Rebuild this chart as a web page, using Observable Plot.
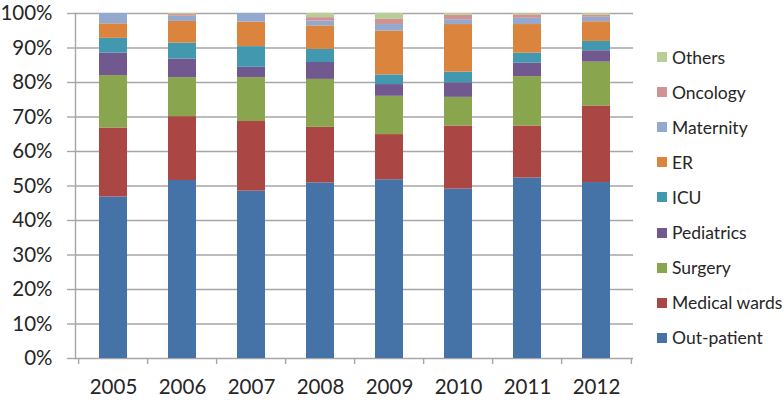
<!DOCTYPE html>
<html><head><meta charset="utf-8">
<script src="https://cdn.jsdelivr.net/npm/d3@7"></script>
<script src="https://cdn.jsdelivr.net/npm/@observablehq/plot@0.6"></script>
<style>
body{margin:0;background:#fff;font-family:Lato,sans-serif}
#wrap{position:relative;width:784px;height:404px;overflow:hidden}
#legend{position:absolute;left:657px;top:0;width:127px;height:404px}
.item{position:absolute;left:0;height:24px;display:flex;align-items:center;white-space:nowrap;font-size:17.5px;color:#262626}
.sw{width:10px;height:10px;margin-right:5px;flex:none}
</style></head><body><div id="wrap"><div id="legend"></div></div>
<script>
const years = ["2005","2006","2007","2008","2009","2010","2011","2012"];
const outPatient   = [46.8,51.6,48.5,50.9,51.8,49.1,52.3,51.0];
const medicalWards = [20.0,18.5,20.2,16.1,13.1,18.3,15.1,22.2];
const surgery      = [15.2,11.3,12.7,13.9,11.1, 8.3,14.3,12.7];
const pediatrics   = [ 6.5, 5.4, 3.0, 4.9, 3.4, 4.2, 3.9, 3.3];
const icu          = [ 4.3, 4.6, 6.0, 3.8, 2.8, 3.1, 2.9, 2.7];
const er           = [ 4.2, 6.3, 7.1, 6.8,12.7,13.8, 8.3, 5.7];
const maternity    = [ 3.0, 1.5, 2.5, 1.4, 1.9, 1.4, 1.8, 1.3];
const oncology     = [ 0.0, 0.5, 0.0, 1.0, 1.5, 1.3, 1.0, 0.6];
const others       = [ 0.0, 0.3, 0.0, 1.2, 1.7, 0.5, 0.4, 0.5];
const seriesNames  = ["Out-patient","Medical wards","Surgery","Pediatrics","ICU","ER","Maternity","Oncology","Others"];
const seriesColors = ["#4572A7","#AA4643","#89A54E","#71588F","#4198AF","#DB843D","#93A9CF","#D19392","#B9CD96"];
const yTicks = [0,10,20,30,40,50,60,70,80,90,100];

const seriesValues = [outPatient, medicalWards, surgery, pediatrics, icu, er, maternity, oncology, others];
const rows = seriesValues.flatMap((vals, s) => vals.map((v, i) => ({year: years[i], series: seriesNames[s], value: v})));

const W = 784, H = 404, ML = 75, MR = 151, MT = 13, MB = 46;
const step = (W - ML - MR) / years.length;
const grey = "#a6a6a6";

const chart = Plot.plot({
  width: W, height: H, marginLeft: ML, marginRight: MR, marginTop: MT, marginBottom: MB,
  style: {fontFamily: "Lato, sans-serif", fontSize: "20.5px", color: "#262626", background: "#fff"},
  x: {domain: years, paddingInner: 0.6, paddingOuter: 0.3, label: null},
  y: {domain: [0, 100], label: null},
  color: {domain: seriesNames, range: seriesColors},
  marks: [
    Plot.gridY(yTicks, {stroke: grey, strokeOpacity: 1, strokeWidth: 1.4}),
    Plot.barY(rows, {x: "year", y: "value", fill: "series", order: seriesNames}),
    Plot.frame({anchor: "left", stroke: grey, strokeWidth: 1.4}),
    Plot.axisY(yTicks, {tickSize: 8, tickPadding: 15, tickFormat: d => d + "%", stroke: grey, strokeWidth: 1.4, fill: "#262626"}),
    Plot.axisX({tickSize: 6, dx: -step / 2, tickFormat: () => "", stroke: grey, strokeWidth: 1.4}),
    Plot.axisX([years[years.length - 1]], {tickSize: 6, dx: step / 2, tickFormat: () => "", stroke: grey, strokeWidth: 1.4}),
    Plot.axisX({tickSize: 0, tickPadding: 21, fill: "#262626"})
  ]
});
document.getElementById("wrap").prepend(chart);

const legend = document.getElementById("legend");
seriesNames.slice().reverse().forEach((name, k) => {
  const idx = seriesNames.indexOf(name);
  const item = document.createElement("div");
  item.className = "item";
  item.style.top = (57 + k * 35.1 - 12) + "px";
  const sw = document.createElement("span");
  sw.className = "sw";
  sw.style.background = seriesColors[idx];
  const t = document.createElement("span");
  t.textContent = name;
  item.append(sw, t);
  legend.append(item);
});
</script>
</body></html>
